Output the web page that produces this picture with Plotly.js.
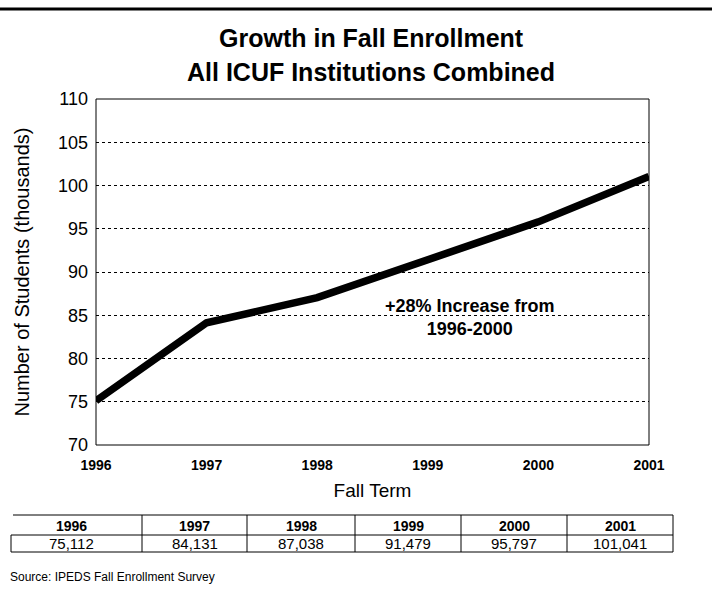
<!DOCTYPE html>
<html>
<head>
<meta charset="utf-8">
<script src="https://cdn.plot.ly/plotly-3.0.1.min.js"></script>
<style>html,body{margin:0;padding:0;background:#fff;}#chart{width:712px;height:591px;}</style>
</head>
<body>
<div id="chart"></div>
<script>
// ---- data ----
const years = [1996, 1997, 1998, 1999, 2000, 2001];
const enrollmentThousands = [75.112, 84.131, 87.038, 91.479, 95.797, 101.041];
const tableHeaders = ["1996", "1997", "1998", "1999", "2000", "2001"];
const tableValues = ["75,112", "84,131", "87,038", "91,479", "95,797", "101,041"];
const yTicks = [70, 75, 80, 85, 90, 95, 100, 105, 110];

// ---- layout helpers (pixel -> paper) ----
const W = 712, H = 591;
const M = {l: 96, r: 63, t: 99, b: 146};
const PW = W - M.l - M.r, PH = H - M.t - M.b;
const px = x => (x - M.l) / PW;
const py = y => (H - M.b - y) / PH;
const FONT = "Liberation Sans, Arial, sans-serif";

const colEdges = [11, 142, 247, 355, 461, 567, 673];
const tTop = 515, tMid = 535, tBot = 552;

const shapes = [];
const annotations = [];
const line = (x0, y0, x1, y1, w) => shapes.push({type: 'line', xref: 'paper', yref: 'paper',
  x0: px(x0), y0: py(y0), x1: px(x1), y1: py(y1), line: {color: '#000', width: w || 1}});

// page top rule
line(0, 9, W, 9, 3);
// plot border
shapes.push({type: 'rect', xref: 'paper', yref: 'paper', x0: 0, y0: 0, x1: 1, y1: 1,
  line: {color: '#000', width: 1}});
// table lines
line(13, tTop, colEdges[colEdges.length - 1], tTop);
line(colEdges[0], tMid, colEdges[colEdges.length - 1], tMid);
line(colEdges[0], tBot, colEdges[colEdges.length - 1], tBot);
line(colEdges[0], tMid, colEdges[0], tBot);
for (let i = 1; i < colEdges.length; i++) line(colEdges[i], tTop, colEdges[i], tBot);

tableHeaders.forEach((h, i) => {
  const cx = (colEdges[i] + colEdges[i + 1]) / 2 + (i === 0 ? -5 : 0);
  annotations.push({xref: 'paper', yref: 'paper', x: px(cx), y: py((tTop + tMid) / 2 + 1),
    text: h, showarrow: false, xanchor: 'center', yanchor: 'middle',
    font: {family: FONT, size: 14, color: '#000', weight: 'bold'}});
  annotations.push({xref: 'paper', yref: 'paper', x: px(cx), y: py((tMid + tBot) / 2),
    text: tableValues[i], showarrow: false, xanchor: 'center', yanchor: 'middle',
    font: {family: FONT, size: 15, color: '#000'}});
});

// titles
annotations.push({xref: 'paper', yref: 'paper', x: px(371), y: py(38), text: 'Growth in Fall Enrollment',
  showarrow: false, xanchor: 'center', yanchor: 'middle', font: {family: FONT, size: 25, color: '#000', weight: 'bold'}});
annotations.push({xref: 'paper', yref: 'paper', x: px(371), y: py(72), text: 'All ICUF Institutions Combined',
  showarrow: false, xanchor: 'center', yanchor: 'middle', font: {family: FONT, size: 25, color: '#000', weight: 'bold'}});

// in-plot note
annotations.push({xref: 'paper', yref: 'paper', x: px(470), y: py(317),
  text: '+28% Increase from<br>1996-2000', showarrow: false, xanchor: 'center', yanchor: 'middle',
  font: {family: FONT, size: 18, color: '#000', weight: 'bold'}});

// source
annotations.push({xref: 'paper', yref: 'paper', x: px(8), y: py(577), text: 'Source: IPEDS Fall Enrollment Survey',
  showarrow: false, xanchor: 'left', yanchor: 'middle', font: {family: FONT, size: 12, color: '#000'}});

const trace = {
  x: years, y: enrollmentThousands, type: 'scatter', mode: 'lines',
  line: {color: '#000', width: 7.5}, hoverinfo: 'skip'
};

const layout = {
  width: W, height: H,
  margin: M,
  paper_bgcolor: '#fff', plot_bgcolor: '#fff',
  showlegend: false,
  font: {family: FONT, color: '#000'},
  xaxis: {
    range: [1996, 2001], tickvals: years, ticktext: tableHeaders,
    showgrid: false, zeroline: false, showline: false, ticks: '',
    ticklabelstandoff: 10,
    tickfont: {family: FONT, size: 14, color: '#000', weight: 'bold'},
    title: {text: 'Fall Term', font: {family: FONT, size: 19, color: '#000'}, standoff: 11}
  },
  yaxis: {
    range: [70, 110], tickvals: yTicks,
    showgrid: true, gridcolor: '#000', gridwidth: 1, griddash: 'dot',
    zeroline: false, showline: false, ticks: '',
    ticklabelstandoff: 7,
    tickfont: {family: FONT, size: 18, color: '#000'},
    title: {text: 'Number of Students (thousands)', font: {family: FONT, size: 20, color: '#000'}, standoff: 22}
  },
  shapes: shapes,
  annotations: annotations
};

Plotly.newPlot('chart', [trace], layout, {displayModeBar: false, staticPlot: true});
</script>
</body>
</html>
